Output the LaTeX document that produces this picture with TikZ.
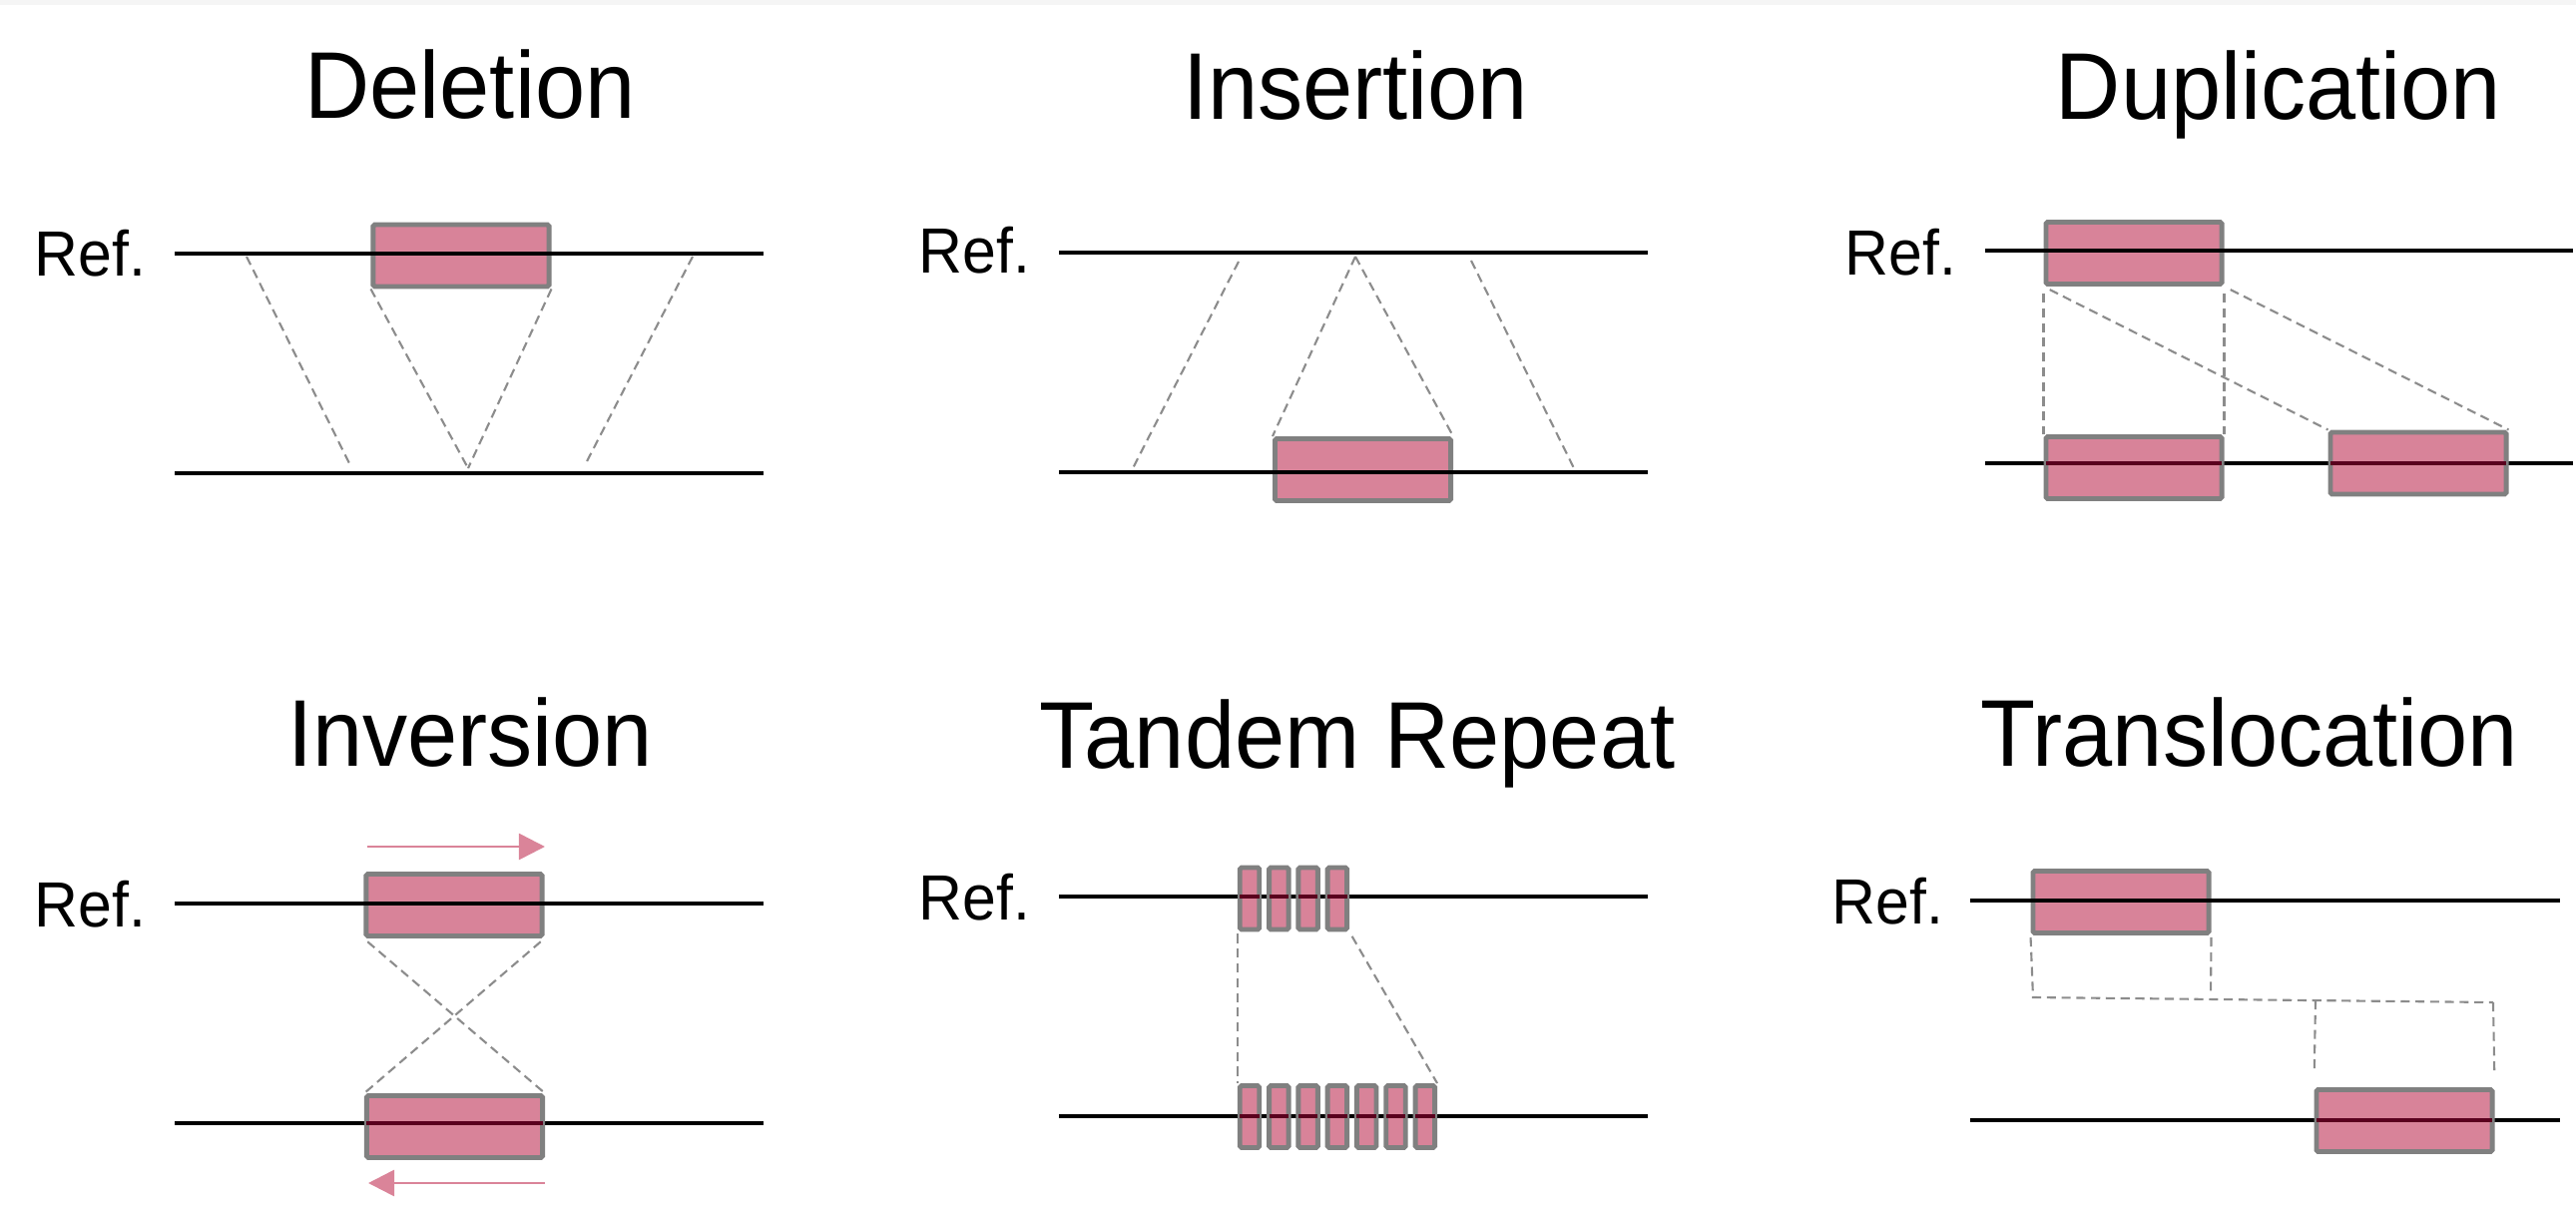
\documentclass[tikz,border=0pt]{standalone}
\usepackage{fontspec}
\setmainfont{Liberation Sans}
\newfontfamily\narrowsans[FakeStretch=0.95]{Liberation Sans}
\usetikzlibrary{arrows.meta}
\definecolor{boxpink}{RGB}{216,131,153}
\definecolor{boxgray}{RGB}{128,128,128}
\definecolor{dashgray}{RGB}{140,140,140}
\definecolor{darkmaroon}{RGB}{90,0,30}
\definecolor{arrowpink}{RGB}{218,132,153}
\begin{document}
\begin{tikzpicture}[x=0.01cm,y=-0.01cm,
  svtitle/.style={font=\narrowsans\fontsize{27}{31}\selectfont, anchor=base, inner sep=0},
  reflabel/.style={font=\narrowsans\fontsize{18.2}{21}\selectfont, anchor=base east, inner sep=0},
  chrom/.style={line width=1.25pt, black},
  svbox/.style={draw=boxgray, fill=boxpink, line width=1.4pt, minimum width=1.76cm, minimum height=0.62cm, inner sep=0, rounded corners=0.5pt},
  rptbox/.style={svbox, minimum width=0.195cm},
  maplink/.style={draw=dashgray, line width=0.6pt, dash pattern=on 2.6pt off 1.6pt},
  maroonseg/.style={line width=1.25pt, darkmaroon},
  orient/.style={draw=arrowpink, line width=0.75pt, -{Triangle[length=0.26cm,width=0.26cm]}}
]
\useasboundingbox (0,0) rectangle (2581,1227);
\fill[gray!8] (0,0) rectangle (2581,5);

% ---------------- Deletion ----------------
\node[svtitle] (tDel) at (471,118) {Deletion};
\node[reflabel] (rDel) at (147,276) {Ref.};
\coordinate (dA1) at (175,254); \coordinate (dA2) at (765,254);
\coordinate (dB1) at (175,474); \coordinate (dB2) at (765,474);
\node[svbox] (dBox) at (462,256) {};
\draw[chrom] (dA1) -- (dA2);
\draw[chrom] (dB1) -- (dB2);
\coordinate (dL1) at (247,257); \coordinate (dL2) at (351,466);
\coordinate (dJ) at (469,469);
\coordinate (dR1) at (694,257); \coordinate (dR2) at (586,466);
\draw[maplink] (dL1) -- (dL2);
\draw[maplink] (dBox.south west) -- (dJ);
\draw[maplink] (dBox.south east) -- (dJ);
\draw[maplink] (dR1) -- (dR2);

% ---------------- Insertion ----------------
\node[svtitle] (tIns) at (1358,120) {Insertion};
\node[reflabel] (rIns) at (1033,273) {Ref.};
\coordinate (iA1) at (1061,253); \coordinate (iA2) at (1651,253);
\coordinate (iB1) at (1061,473); \coordinate (iB2) at (1651,473);
\node[svbox] (iBox) at (1365.5,470.5) {};
\draw[chrom] (iA1) -- (iA2);
\draw[chrom] (iB1) -- (iB2);
\coordinate (iL1) at (1241,262); \coordinate (iL2) at (1134,471);
\coordinate (iJ) at (1358,257);
\coordinate (iR1) at (1474,261); \coordinate (iR2) at (1578,471);
\draw[maplink] (iL1) -- (iL2);
\draw[maplink] (iJ) -- (iBox.north west);
\draw[maplink] (iJ) -- (iBox.north east);
\draw[maplink] (iR1) -- (iR2);

% ---------------- Duplication ----------------
\node[svtitle] (tDup) at (2283,120) {Duplication};
\node[reflabel] (rDup) at (1961,275) {Ref.};
\coordinate (uA1) at (1989,251); \coordinate (uA2) at (2578,251);
\coordinate (uB1) at (1989,464); \coordinate (uB2) at (2578,464);
\draw[chrom] (uB1) -- (uB2);
\node[svbox] (uTop) at (2138,253.5) {};
\node[svbox] (uBot1) at (2138,468.5) {};
\node[svbox] (uBot2) at (2423,464) {};
\draw[chrom] (uA1) -- (uA2);
\draw[maroonseg] ([xshift=0.025cm]uBot1.west |- uB1) -- ([xshift=-0.025cm]uBot1.east |- uB1);
\draw[maroonseg] ([xshift=0.025cm]uBot2.west |- uB1) -- ([xshift=-0.025cm]uBot2.east |- uB1);
\draw[maplink, shorten <=0.07cm] (uTop.south west) -- (uBot1.north west);
\draw[maplink, shorten <=0.07cm] (uTop.south east) -- (uBot1.north east);
\draw[maplink, shorten <=0.07cm] (uTop.south west) -- (uBot2.north west);
\draw[maplink, shorten <=0.07cm] (uTop.south east) -- (uBot2.north east);

% ---------------- Inversion ----------------
\node[svtitle] (tInv) at (471,767) {Inversion};
\node[reflabel] (rInv) at (147,928) {Ref.};
\coordinate (vA1) at (175,905); \coordinate (vA2) at (765,905);
\coordinate (vB1) at (175,1125); \coordinate (vB2) at (765,1125);
\draw[chrom] (vB1) -- (vB2);
\node[svbox] (vTop) at (455,906.5) {};
\node[svbox] (vBot) at (455.5,1128.5) {};
\draw[chrom] (vA1) -- (vA2);
\draw[maroonseg] ([xshift=0.025cm]vBot.west |- vB1) -- ([xshift=-0.025cm]vBot.east |- vB1);
\draw[maplink, shorten <=0.05cm] (vTop.south west) -- (vBot.north east);
\draw[maplink, shorten <=0.05cm] (vTop.south east) -- (vBot.north west);
\coordinate (vF1) at (368,848); \coordinate (vF2) at (546,848);
\coordinate (vR1) at (546,1185); \coordinate (vR2) at (369,1185);
\draw[orient] (vF1) -- (vF2);
\draw[orient] (vR1) -- (vR2);

% ---------------- Tandem Repeat ----------------
\node[svtitle] (tTan) at (1360,769) {Tandem Repeat};
\node[reflabel] (rTan) at (1033,921) {Ref.};
\coordinate (rA1) at (1061,898); \coordinate (rA2) at (1651,898);
\coordinate (rB1) at (1061,1118); \coordinate (rB2) at (1651,1118);
\draw[chrom] (rA1) -- (rA2);
\draw[chrom] (rB1) -- (rB2);
\foreach \i in {1,...,4}{
  \node[rptbox] (rt\i) at ({1252+(\i-1)*29.3},900) {};
  \draw[maroonseg] ([xshift=0.025cm]rt\i.west |- rA1) -- ([xshift=-0.025cm]rt\i.east |- rA1);
}
\foreach \i in {1,...,7}{
  \node[rptbox] (rb\i) at ({1252+(\i-1)*29.3},1118.5) {};
  \draw[maroonseg] ([xshift=0.025cm]rb\i.west |- rB1) -- ([xshift=-0.025cm]rb\i.east |- rB1);
}
\draw[maplink, shorten <=0.02cm] (rt1.south west) -- (rb1.north west);
\draw[maplink, shorten <=0.05cm] (rt4.south east) -- (rb7.north east);

% ---------------- Translocation ----------------
\node[svtitle] (tTra) at (2254,767) {Translocation};
\node[reflabel] (rTra) at (1948,925) {Ref.};
\coordinate (xA1) at (1974,902); \coordinate (xA2) at (2565,902);
\coordinate (xB1) at (1974,1122); \coordinate (xB2) at (2565,1122);
\draw[chrom] (xB1) -- (xB2);
\node[svbox] (xTop) at (2125,903.5) {};
\node[svbox] (xBot) at (2409,1122.5) {};
\draw[chrom] (xA1) -- (xA2);
\draw[maroonseg] ([xshift=0.025cm]xBot.west |- xB1) -- ([xshift=-0.025cm]xBot.east |- xB1);
\coordinate (xP1) at (2037,999);
\coordinate (xP2) at (2215,997);
\coordinate (xP3) at (2320,1002);
\coordinate (xP4) at (2498,1004);
\draw[maplink, shorten <=0.02cm] (xTop.south west) -- (xP1) -- (xP4);
\draw[maplink, shorten <=0.02cm] (xTop.south east) -- (xP2);
\draw[maplink, shorten >=0.15cm] (xP3) -- (xBot.north west);
\draw[maplink, shorten >=0.15cm] (xP4) -- (xBot.north east);
\end{tikzpicture}
\end{document}
